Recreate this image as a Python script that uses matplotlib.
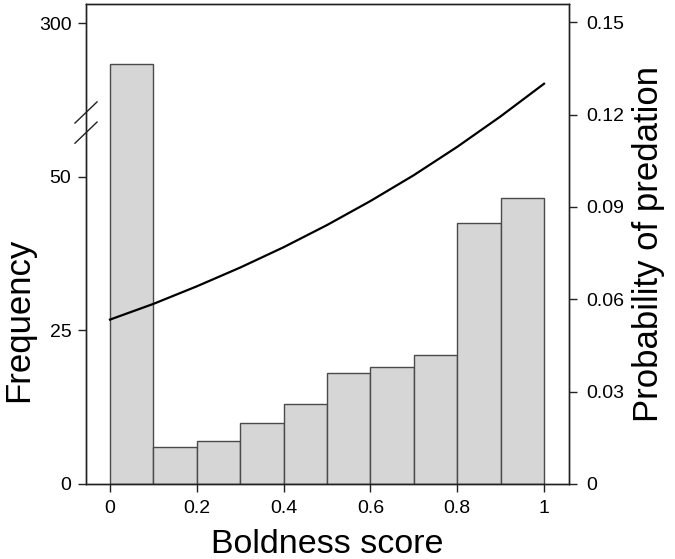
import numpy as np
import matplotlib.pyplot as plt
from matplotlib.scale import FuncScale

plt.rcParams['font.family'] = ['Liberation Sans', 'DejaVu Sans']

# histogram of boldness scores (bins of width 0.1)
bin_left = [0.0, 0.1, 0.2, 0.3, 0.4, 0.5, 0.6, 0.7, 0.8, 0.9]
freq = [193, 6, 7, 10, 13, 18, 19, 21, 42.5, 46.5]

# fitted probability of predation
curve_x = [0.0, 0.1, 0.2, 0.3, 0.4, 0.5, 0.6, 0.7, 0.8, 0.9, 1.0]
curve_p = [0.0534, 0.0585, 0.0642, 0.0703, 0.0769, 0.0841, 0.0919, 0.1003, 0.1095, 0.1194, 0.130]

left_ticks = [0, 25, 50, 300]
left_labels = ['0', '25', '50', '300']
right_ticks = [0, 0.03, 0.06, 0.09, 0.12, 0.15]
right_labels = ['0', '0.03', '0.06', '0.09', '0.12', '0.15']
x_ticks = [0, 0.2, 0.4, 0.6, 0.8, 1]
x_labels = ['0', '0.2', '0.4', '0.6', '0.8', '1']

# broken axis: everything above 60 is compressed 16x
BRK, K = 60.0, 16.0


def fwd(v):
    v = np.asarray(v, dtype=float)
    return np.where(v <= BRK, v, BRK + (v - BRK) / K)


def inv(d):
    d = np.asarray(d, dtype=float)
    return np.where(d <= BRK, d, BRK + (d - BRK) * K)


fig = plt.figure(figsize=(6.75, 5.59), dpi=100)
ax = fig.add_axes([86 / 675, 1 - 484 / 559, 483 / 675, 480 / 559])
ax.set_yscale(FuncScale(ax.yaxis, (fwd, inv)))

ax.bar(bin_left, freq, width=0.1, align='edge', color='#d6d6d6',
       edgecolor='#4a4a4a', linewidth=1.0, zorder=2)
ax.set_xlim(-0.0553, 1.0576)
ax.set_ylim(0, float(inv(78.1)))
ax.set_yticks(left_ticks)
ax.set_yticklabels(left_labels)
ax.set_xticks(x_ticks)
ax.set_xticklabels(x_labels)
ax.yaxis.set_minor_locator(plt.NullLocator())
ax.tick_params(axis='both', labelsize=14, length=5.5, width=1.0,
               color='#222222', pad=5)
ax.tick_params(axis='x', pad=6)

ax2 = ax.twinx()
ax2.plot(curve_x, curve_p, color='black', lw=1.6, zorder=3)
ax2.set_ylim(0, 0.1559)
ax2.set_yticks(right_ticks)
ax2.set_yticklabels(right_labels)
ax2.tick_params(axis='y', labelsize=14, length=5.5, width=1.0,
                color='#222222', pad=7)

for a in (ax, ax2):
    for s in a.spines.values():
        s.set_color('#222222')
        s.set_linewidth(1.0)

ax.set_xlabel('Boldness score', fontsize=24.5)
ax.xaxis.set_label_coords(0.5, -0.093)
ax.set_ylabel('Frequency', fontsize=25)
ax.yaxis.set_label_coords(-0.106, 0.342)
ax2.set_ylabel('Probability of predation', fontsize=25)
ax2.yaxis.set_label_coords(1.13, 0.5)

# break marks on the left axis
for y0 in (0.752, 0.710):
    ax.plot([-0.0228, 0.0228], [y0, y0 + 0.044], transform=ax.transAxes,
            color='#222222', lw=1.0, clip_on=False)

fig.savefig('out.png', dpi=100)
